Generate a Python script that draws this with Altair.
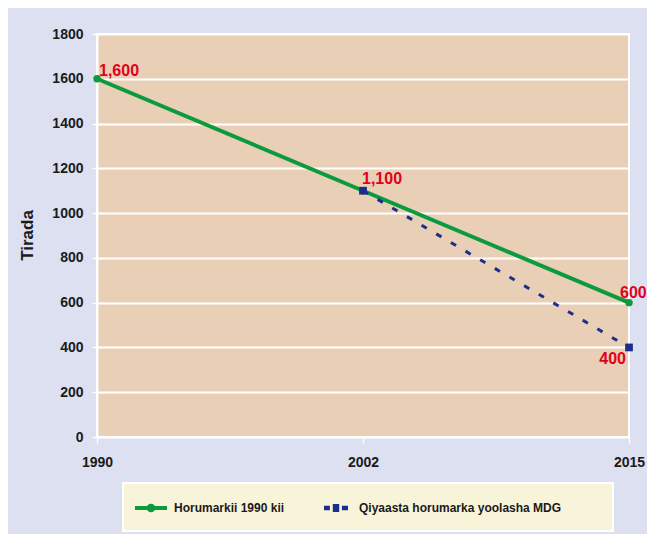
import altair as alt
import pandas as pd

# ---- data ----
years = ["1990", "2002", "2015"]
trend_values = [1600, 1100, 600]
target_years = ["2002", "2015"]
target_values = [1100, 400]
series_names = ["Horumarkii 1990 kii", "Qiyaasta horumarka yoolasha MDG"]
label_years = ["1990", "2002", "2015", "2015"]
label_values = [1600, 1100, 600, 400]
label_texts = ["1,600", "1,100", "600", "400"]
y_ticks = [0, 200, 400, 600, 800, 1000, 1200, 1400, 1600, 1800]

# ---- styles ----
FONT = "Liberation Sans, Arial, Helvetica, sans-serif"
GREEN = "#0b9a3c"
BLUE = "#1b2e8c"
RED = "#e3001b"
OUTER_BG = "#dde0f1"
PLOT_BG = "#e8cfb6"
LEGEND_BG = "#f8f4d9"
TEXT = "#1a1a1a"

trend = pd.DataFrame({"year": years, "value": trend_values, "series": series_names[0]})
target = pd.DataFrame({"year": target_years, "value": target_values, "series": series_names[1]})
both = pd.concat([trend, target], ignore_index=True)
labels = pd.DataFrame({"year": label_years, "value": label_values, "text": label_texts})

x_enc = alt.X(
    "year:O",
    sort=years,
    scale=alt.Scale(type="point", padding=0, domain=years),
    axis=alt.Axis(
        title=None, labelAngle=0, grid=False, domain=False,
        tickColor="white", tickSize=6, tickWidth=1.5,
        labelFont=FONT, labelFontSize=14, labelFontWeight="bold",
        labelColor=TEXT, labelPadding=12,
    ),
)
y_enc = alt.Y(
    "value:Q",
    scale=alt.Scale(domain=[0, 1800], nice=False),
    axis=alt.Axis(
        title="Tirada", values=y_ticks, format="d", grid=True, gridColor="white", gridWidth=1.8,
        tickColor="white", tickSize=5, tickWidth=1.5,
        domainColor="white", domainWidth=2,
        labelFont=FONT, labelFontSize=14, labelFontWeight="bold",
        labelColor=TEXT, labelPadding=9,
        titleFont=FONT, titleFontSize=17, titleFontWeight="bold",
        titleColor=TEXT, titleX=-61, titleY=201,
    ),
)

box = alt.Chart(pd.DataFrame({"k": [0]})).mark_rect(
    fill=LEGEND_BG, stroke="white", strokeWidth=2
).encode(x=alt.value(26), x2=alt.value(516), y=alt.value(449), y2=alt.value(497))

green_line = alt.Chart(trend).mark_line(color=GREEN, strokeWidth=4).encode(x=x_enc, y=y_enc)
blue_line = alt.Chart(target).mark_line(
    color=BLUE, strokeWidth=3, strokeDash=[6, 11]
).encode(x=x_enc, y=y_enc)
green_pts = alt.Chart(trend).mark_point(
    filled=True, color=GREEN, size=55, opacity=1, shape="circle"
).encode(x=x_enc, y=y_enc)
blue_pts = alt.Chart(target).mark_point(
    filled=True, color=BLUE, size=60, opacity=1, shape="square"
).encode(x=x_enc, y=y_enc)

PATH_GREEN = ("M-1,-0.13 L1,-0.13 L1,0.13 L-1,0.13 Z "
              "M-0.27,0 A0.27,0.27 0 1,1 0.27,0 A0.27,0.27 0 1,1 -0.27,0 Z")
PATH_BLUE = ("M-0.75,-0.14 L-0.38,-0.14 L-0.38,0.14 L-0.75,0.14 Z "
             "M-0.2,-0.25 L0.2,-0.25 L0.2,0.25 L-0.2,0.25 Z "
             "M0.37,-0.14 L0.75,-0.14 L0.75,0.14 L0.37,0.14 Z")

legend_props = dict(
    title=None, orient="none", legendX=38, legendY=458, direction="horizontal",
    symbolSize=1024, labelOffset=7, columnPadding=35, padding=0,
    labelFont=FONT, labelFontSize=12, labelFontWeight="bold", labelColor=TEXT,
    symbolStrokeWidth=0, symbolOpacity=1, labelLimit=400,
)
legend_layer = alt.Chart(both).mark_point(filled=True, opacity=0).encode(
    x=x_enc, y=y_enc,
    color=alt.Color("series:N", scale=alt.Scale(domain=series_names, range=[GREEN, BLUE]),
                    legend=alt.Legend(**legend_props)),
    shape=alt.Shape("series:N", scale=alt.Scale(domain=series_names, range=[PATH_GREEN, PATH_BLUE]),
                    legend=alt.Legend(**legend_props)),
)


def label_layer(txt, align, dx, dy):
    return alt.Chart(labels).transform_filter(alt.datum.text == txt).mark_text(
        align=align, baseline="alphabetic", dx=dx, dy=dy,
        font=FONT, fontSize=16, fontWeight="bold", color=RED,
    ).encode(x=x_enc, y=y_enc, text="text:N")


chart = alt.layer(
    box, legend_layer, green_line, blue_line, green_pts, blue_pts,
    label_layer("1,600", "left", 2, -3),
    label_layer("1,100", "left", -1, -7),
    label_layer("600", "left", -9, -5),
    label_layer("400", "right", -3, 17),
).properties(
    width=532, height=403,
    autosize=alt.AutoSizeParams(type="none"),
    padding={"left": 89, "top": 26, "right": 18, "bottom": 97},
    background=OUTER_BG,
).configure_view(
    fill=PLOT_BG, stroke="white", strokeWidth=2
)

chart.save("out.html", embed_options={"renderer": "svg", "actions": False})
